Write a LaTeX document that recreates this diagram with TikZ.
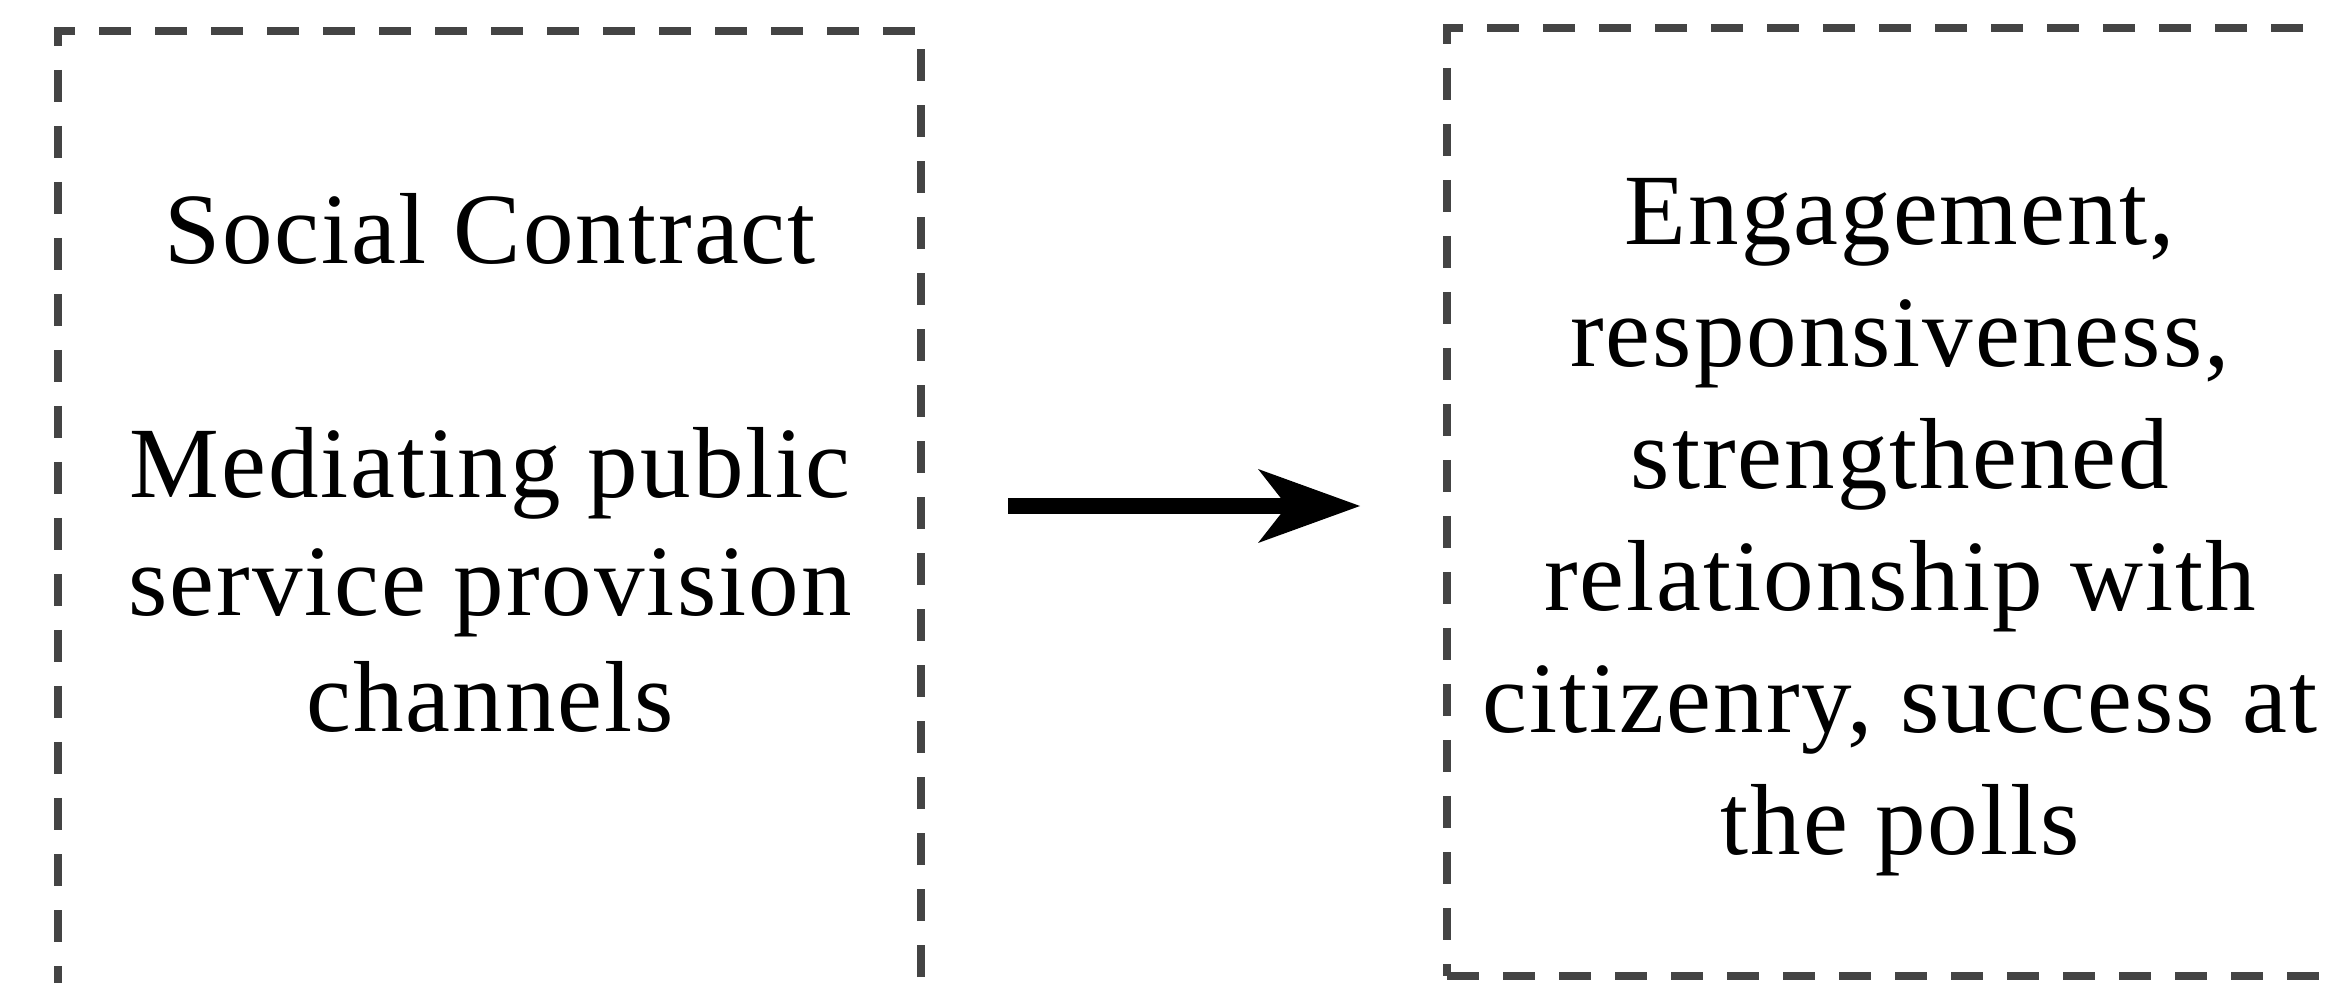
\documentclass[tikz,border=0pt]{standalone}
\usepackage{fontspec}
\setmainfont[LetterSpace=2]{Liberation Serif}
\usetikzlibrary{arrows.meta}
\definecolor{boxgray}{HTML}{444444}
\begin{document}
\begin{tikzpicture}[x=0.5pt,y=-0.5pt,
  dashbox/.style={rectangle, draw=boxgray, line width=4pt,
    dash pattern=on 16pt off 12pt, inner sep=0pt},
  boxtext/.style={align=center, inner sep=0pt, anchor=base, text=black},
  bigarrow/.style={line width=8pt, draw=black,
    -{Stealth[length=51pt, width=37pt, inset=14.5pt, line width=0pt]}}]
\useasboundingbox (0,0) rectangle (2325,983);
\clip (0,0) rectangle (2325,983);
\node[dashbox, minimum width=431.5pt, minimum height=489.5pt] (leftbox) at (489.5,520.5) {};
\node[dashbox, minimum width=453pt, minimum height=474pt] (rightbox) at (1900,502) {};
\coordinate (arrowrow) at (0,506);
\node[boxtext, font=\fontsize{50.5pt}{58.5pt}\selectfont] (lefttext) at (490,732)
  {Social Contract\\[58.5pt]Mediating public\\service provision\\channels};
\node[boxtext, font=\fontsize{50.5pt}{61pt}\selectfont] (righttext) at (1900,854)
  {Engagement,\\responsiveness,\\strengthened\\relationship with\\citizenry, success at\\the polls};
\draw[bigarrow, shorten <=41.5pt, shorten >=41.5pt] (leftbox.east|-arrowrow) -- (rightbox.west|-arrowrow);
\end{tikzpicture}
\end{document}
